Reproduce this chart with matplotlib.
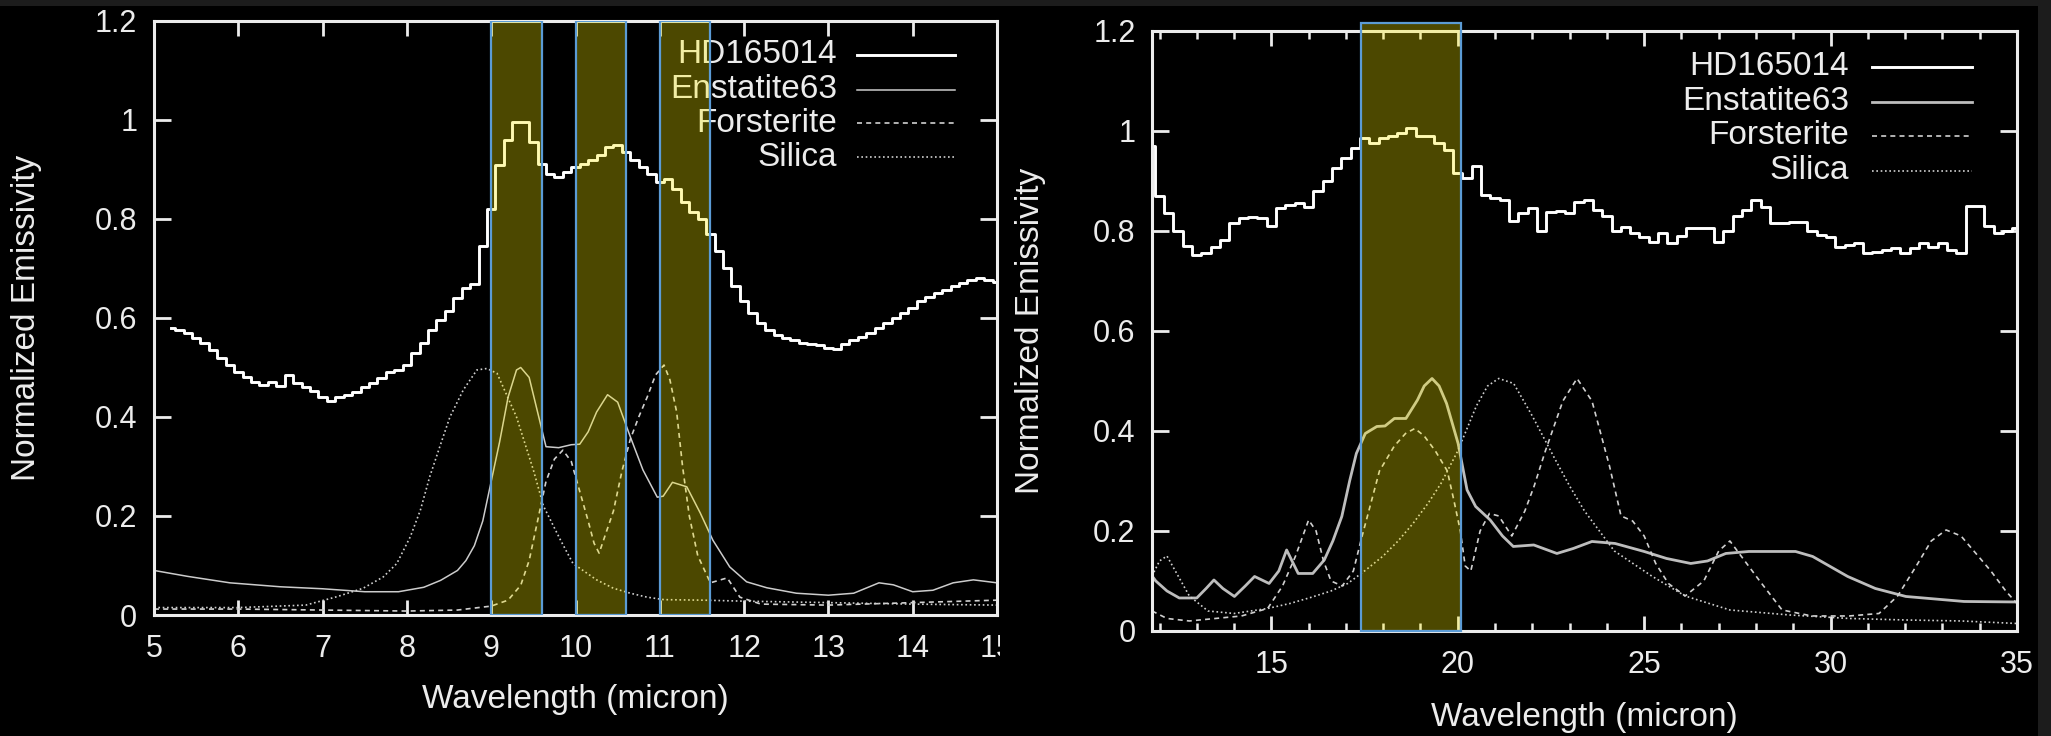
import numpy as np
import matplotlib.pyplot as plt
from matplotlib.patches import Rectangle
from matplotlib.ticker import MultipleLocator

plt.rcParams['font.family'] = ['Liberation Sans', 'DejaVu Sans']

# ---------------- 5-15 micron panel ----------------
hd_w1 = np.arange(52, 151) / 10.0
hd_v1 = [0.58, 0.575, 0.57, 0.56, 0.55, 0.535, 0.52, 0.505, 0.49, 0.48,
         0.47, 0.465, 0.47, 0.462, 0.485, 0.468, 0.46, 0.452, 0.44, 0.432,
         0.44, 0.445, 0.45, 0.46, 0.468, 0.478, 0.49, 0.495, 0.505, 0.53,
         0.55, 0.575, 0.595, 0.615, 0.64, 0.66, 0.668, 0.745, 0.82, 0.91,
         0.96, 0.995, 0.995, 0.955, 0.912, 0.89, 0.885, 0.895, 0.905, 0.912,
         0.92, 0.93, 0.945, 0.95, 0.935, 0.92, 0.905, 0.89, 0.875, 0.88,
         0.86, 0.835, 0.815, 0.80, 0.77, 0.735, 0.70, 0.665, 0.635, 0.61,
         0.59, 0.575, 0.565, 0.56, 0.555, 0.55, 0.548, 0.545, 0.54, 0.538,
         0.548, 0.555, 0.562, 0.57, 0.58, 0.59, 0.60, 0.61, 0.62, 0.635,
         0.642, 0.65, 0.657, 0.665, 0.67, 0.677, 0.68, 0.676, 0.673]

ens_w1 = [5.0, 5.4, 5.9, 6.5, 7.0, 7.5, 7.9, 8.2, 8.4, 8.6, 8.7, 8.8, 8.9,
          9.0, 9.1, 9.2, 9.3, 9.35, 9.45, 9.55, 9.65, 9.8, 9.95, 10.05,
          10.15, 10.25, 10.38, 10.5, 10.65, 10.8, 10.97, 11.04, 11.15, 11.32,
          11.48, 11.63, 11.83, 12.03, 12.27, 12.62, 13.0, 13.3, 13.6, 13.77,
          14.0, 14.24, 14.48, 14.72, 15.0]
ens_v1 = [0.09, 0.078, 0.065, 0.057, 0.053, 0.047, 0.047, 0.056, 0.07, 0.09,
          0.11, 0.14, 0.19, 0.27, 0.35, 0.44, 0.495, 0.50, 0.48, 0.41, 0.34,
          0.338, 0.344, 0.345, 0.37, 0.41, 0.445, 0.43, 0.36, 0.293, 0.238,
          0.24, 0.268, 0.259, 0.206, 0.151, 0.097, 0.067, 0.055, 0.044, 0.04,
          0.044, 0.065, 0.061, 0.047, 0.05, 0.065, 0.071, 0.065]

fo_w1 = [5.0, 6.0, 7.0, 8.0, 8.6, 9.0, 9.2, 9.35, 9.45, 9.55, 9.65, 9.75,
         9.85, 9.95, 10.05, 10.15, 10.22, 10.28, 10.35, 10.45, 10.55, 10.65,
         10.75, 10.85, 10.95, 11.05, 11.12, 11.2, 11.27, 11.35, 11.45, 11.6,
         11.7, 11.8, 11.95, 12.2, 13.0, 14.0, 15.0]
fo_v1 = [0.012, 0.012, 0.01, 0.008, 0.01, 0.018, 0.03, 0.06, 0.11, 0.19,
         0.27, 0.315, 0.333, 0.31, 0.25, 0.19, 0.145, 0.125, 0.16, 0.21,
         0.29, 0.355, 0.40, 0.44, 0.485, 0.505, 0.475, 0.41, 0.30, 0.20,
         0.12, 0.065, 0.07, 0.075, 0.036, 0.022, 0.02, 0.025, 0.03]

si_w1 = [5.0, 6.0, 6.8, 7.17, 7.48, 7.72, 7.88, 8.04, 8.16, 8.27, 8.39, 8.51,
         8.67, 8.83, 8.95, 9.07, 9.3, 9.5, 9.62, 9.82, 9.97, 10.25, 10.45,
         10.65, 10.85, 11.05, 11.5, 12.0, 13.0, 14.0, 15.0]
si_v1 = [0.015, 0.015, 0.02, 0.037, 0.054, 0.077, 0.104, 0.158, 0.212, 0.279,
         0.34, 0.40, 0.455, 0.495, 0.498, 0.488, 0.40, 0.293, 0.22, 0.152,
         0.104, 0.071, 0.054, 0.044, 0.036, 0.031, 0.03, 0.028, 0.025, 0.022,
         0.02]

bands1 = [(9.0, 9.6), (10.0, 10.6), (11.0, 11.6)]

# ---------------- 12-35 micron panel ----------------
hd_w2 = 11.75 + 0.25 * np.arange(94)
hd_v2 = [0.97, 0.87, 0.835, 0.80, 0.77, 0.752, 0.755, 0.768, 0.782, 0.815,
         0.825, 0.828, 0.825, 0.81, 0.845, 0.852, 0.856, 0.848, 0.88, 0.90,
         0.925, 0.945, 0.965, 0.985, 0.975, 0.985, 0.99, 0.995, 1.005, 0.99,
         0.99, 0.975, 0.962, 0.915, 0.905, 0.93, 0.872, 0.866, 0.862, 0.82,
         0.836, 0.846, 0.80, 0.838, 0.84, 0.836, 0.858, 0.862, 0.842, 0.83,
         0.80, 0.808, 0.795, 0.788, 0.778, 0.796, 0.776, 0.79, 0.806, 0.806,
         0.806, 0.778, 0.80, 0.83, 0.842, 0.862, 0.848, 0.816, 0.816, 0.818,
         0.818, 0.80, 0.792, 0.788, 0.768, 0.772, 0.776, 0.756, 0.758, 0.762,
         0.766, 0.756, 0.765, 0.776, 0.768, 0.776, 0.762, 0.756, 0.85, 0.85,
         0.81, 0.795, 0.80, 0.805]

ens_w2 = [11.8, 11.9, 12.2, 12.53, 13.0, 13.25, 13.46, 13.7, 14.01, 14.3,
          14.55, 14.94, 15.2, 15.41, 15.72, 16.11, 16.42, 16.65, 16.89, 17.1,
          17.28, 17.52, 17.83, 18.05, 18.3, 18.61, 18.92, 19.1, 19.31, 19.5,
          19.7, 20.01, 20.25, 20.48, 20.87, 21.2, 21.49, 22.04, 22.66, 23.1,
          23.6, 24.22, 25.0, 25.6, 26.25, 26.7, 27.19, 27.81, 29.06, 29.52,
          30.46, 31.2, 32.02, 33.58, 35.0]
ens_v2 = [0.11, 0.10, 0.08, 0.066, 0.066, 0.085, 0.102, 0.085, 0.069, 0.09,
          0.109, 0.095, 0.12, 0.162, 0.115, 0.115, 0.142, 0.18, 0.229, 0.30,
          0.355, 0.395, 0.409, 0.41, 0.425, 0.425, 0.462, 0.49, 0.505, 0.49,
          0.455, 0.375, 0.282, 0.249, 0.222, 0.19, 0.169, 0.172, 0.155, 0.165,
          0.179, 0.175, 0.159, 0.145, 0.135, 0.14, 0.155, 0.159, 0.159, 0.149,
          0.109, 0.085, 0.069, 0.059, 0.058]

fo_w2 = [11.8, 12.2, 12.8, 13.5, 14.2, 14.9, 15.3, 15.65, 16.0, 16.2, 16.4,
         16.6, 16.9, 17.2, 17.4, 17.65, 17.9, 18.3, 18.6, 18.85, 19.1, 19.4,
         19.72, 19.9, 20.07, 20.2, 20.35, 20.6, 20.85, 21.1, 21.45, 21.8,
         22.05, 22.35, 22.82, 23.2, 23.6, 24.07, 24.38, 24.69, 25.0, 25.31,
         25.65, 26.1, 26.6, 27.0, 27.3, 27.7, 28.1, 28.7, 29.5, 30.5, 31.3,
         31.8, 32.3, 32.7, 33.1, 33.5, 33.9, 34.3, 34.7, 35.0]
fo_v2 = [0.04, 0.025, 0.02, 0.025, 0.03, 0.045, 0.09, 0.15, 0.222, 0.20,
         0.14, 0.10, 0.09, 0.12, 0.18, 0.25, 0.32, 0.37, 0.395, 0.405, 0.39,
         0.36, 0.32, 0.26, 0.20, 0.13, 0.12, 0.20, 0.235, 0.23, 0.19, 0.24,
         0.29, 0.36, 0.46, 0.505, 0.46, 0.33, 0.23, 0.22, 0.19, 0.135, 0.095,
         0.07, 0.10, 0.16, 0.18, 0.14, 0.10, 0.042, 0.03, 0.03, 0.035, 0.07,
         0.13, 0.18, 0.202, 0.19, 0.155, 0.12, 0.08, 0.055]

si_w2 = [11.8, 12.0, 12.2, 12.5, 12.8, 13.3, 14.0, 14.9, 15.5, 16.1, 16.6,
         17.05, 17.5, 18.0, 18.4, 18.8, 19.2, 19.55, 20.0, 20.5, 20.8, 21.1,
         21.5, 22.0, 22.6, 23.0, 23.4, 24.2, 25.2, 26.1, 27.3, 28.9, 30.5,
         32.0, 33.5, 35.0]
si_v2 = [0.11, 0.14, 0.15, 0.11, 0.07, 0.04, 0.035, 0.045, 0.055, 0.068,
         0.08, 0.095, 0.12, 0.15, 0.18, 0.215, 0.255, 0.295, 0.36, 0.45,
         0.49, 0.505, 0.495, 0.43, 0.345, 0.29, 0.24, 0.16, 0.11, 0.07,
         0.042, 0.032, 0.025, 0.022, 0.02, 0.015]

bands2 = [(17.4, 20.1)]

labels = ['HD165014', 'Enstatite63', 'Forsterite', 'Silica']
ytick_vals = [0, 0.2, 0.4, 0.6, 0.8, 1.0, 1.2]
ytick_labels = ['0', '0.2', '0.4', '0.6', '0.8', '1', '1.2']

fg = '#ececec'
band_face = (1.0, 0.94, 0.0, 0.30)
band_edge = '#5b9bd5'


def setup(ax, xlim):
    ax.set_facecolor('black')
    ax.set_xlim(*xlim)
    ax.set_ylim(0, 1.2)
    ax.set_yticks(ytick_vals)
    ax.set_yticklabels(ytick_labels)
    for s in ax.spines.values():
        s.set_color(fg)
        s.set_linewidth(2.2)
    ax.tick_params(which='both', direction='in', top=True, right=True,
                   colors=fg, labelsize=22, width=2)
    ax.tick_params(axis='y', length=12, pad=12)
    ax.tick_params(axis='x', which='major', length=11, pad=14)
    ax.set_xlabel('Wavelength (micron)', fontsize=24, color=fg)
    ax.set_ylabel('Normalized Emissivity', fontsize=24, color=fg)


def draw_key(ax, styles, xt, x1, x2, ys):
    for lab, st, y in zip(labels, styles, ys):
        ax.text(xt, y, lab, transform=ax.transAxes, ha='right', va='center',
                fontsize=24, color=fg, zorder=3)
        ax.plot([x1, x2], [y, y], transform=ax.transAxes, clip_on=False, **st)


fig = plt.figure(figsize=(20.51, 7.36), dpi=100, facecolor='black')

# left panel
ax1 = fig.add_axes([0.0751, 0.1644, 0.4110, 0.8071], zorder=0)
setup(ax1, (5, 15))
ax1.set_xticks(np.arange(5, 16))
st1 = [dict(color='white', lw=2.1),
       dict(color='#cccccc', lw=1.1),
       dict(color='#d0d0d0', lw=1.2, ls=(0, (3, 2.5))),
       dict(color='#d0d0d0', lw=1.2, ls=(0, (1, 1.6)))]
ax1.plot(hd_w1, hd_v1, drawstyle='steps-mid', **st1[0])
ax1.plot(ens_w1, ens_v1, **st1[1])
ax1.plot(fo_w1, fo_v1, **st1[2])
ax1.plot(si_w1, si_v1, **st1[3])
draw_key(ax1, st1, 0.810, 0.834, 0.950, [0.943, 0.884, 0.828, 0.771])
for a, b in bands1:
    ax1.add_patch(Rectangle((a, 0), b - a, 1.2, facecolor=band_face,
                            edgecolor=band_edge, lw=1.6, zorder=4))
ax1.xaxis.set_label_coords(0.4994, -0.116)
ax1.yaxis.set_label_coords(-0.133, 0.5)

# black cover where the left plot is cut off
fig.patches.append(Rectangle((1000 / 2051, 0), 1 - 1000 / 2051, 1,
                             transform=fig.transFigure, facecolor='black',
                             edgecolor='none', zorder=0.5))

# right panel
ax2 = fig.add_axes([0.5617, 0.1427, 0.4217, 0.8152], zorder=1)
setup(ax2, (11.8, 35))
ax2.set_xticks([15, 20, 25, 30, 35])
ax2.xaxis.set_minor_locator(MultipleLocator(1))
ax2.tick_params(axis='x', which='minor', length=6, width=1.8)
st2 = [dict(color='white', lw=2.1),
       dict(color='#bdbdbd', lw=2.0),
       dict(color='#d0d0d0', lw=1.2, ls=(0, (3, 2.5))),
       dict(color='#d0d0d0', lw=1.2, ls=(0, (1, 1.6)))]
ax2.plot(hd_w2, hd_v2, drawstyle='steps-mid', **st2[0])
ax2.plot(ens_w2, ens_v2, **st2[1])
ax2.plot(fo_w2, fo_v2, **st2[2])
ax2.plot(si_w2, si_v2, **st2[3])
draw_key(ax2, st2, 0.806, 0.832, 0.948, [0.94, 0.882, 0.825, 0.767])
for a, b in bands2:
    ax2.add_patch(Rectangle((a, 0), b - a, 1.215, facecolor=band_face,
                            edgecolor=band_edge, lw=1.6, zorder=4,
                            clip_on=False))
ax2.xaxis.set_label_coords(0.4995, -0.118)
ax2.yaxis.set_label_coords(-0.1225, 0.5)

# thin grey frame strips along the top and right edge
fig.patches.append(Rectangle((0, 1 - 6 / 736), 1, 6 / 736,
                             transform=fig.transFigure, facecolor='#1c1c1c',
                             edgecolor='none', zorder=5))
fig.patches.append(Rectangle((2038 / 2051, 0), 13 / 2051, 1,
                             transform=fig.transFigure, facecolor='#1c1c1c',
                             edgecolor='none', zorder=5))

fig.savefig('out.png', dpi=100, facecolor='black')
